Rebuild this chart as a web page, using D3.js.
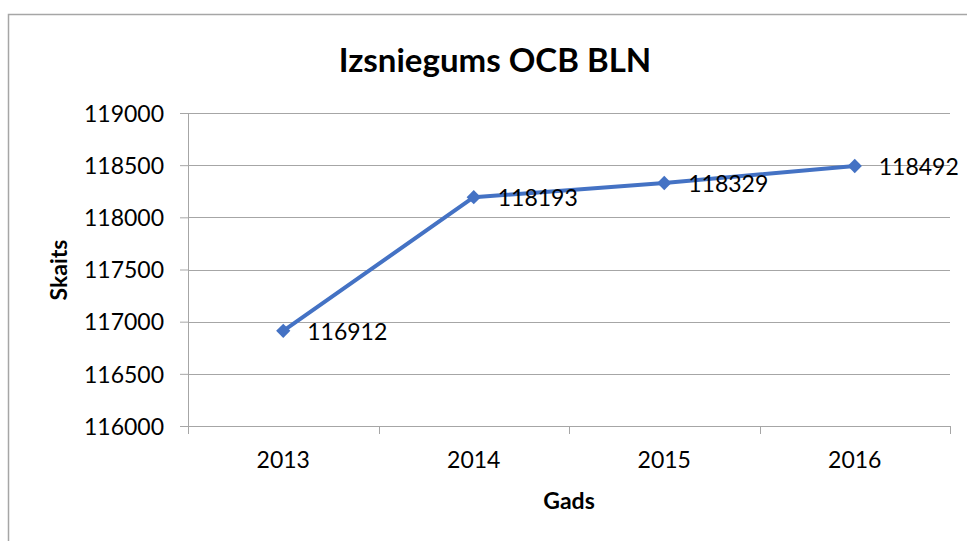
<!DOCTYPE html>
<meta charset="utf-8">
<head>
	<title>Izsniegums OCB BLN</title>
</head>
<style>
	body { margin: 0; background: #fff; }
	text { font-family: Lato, "Open Sans", sans-serif; fill: #000; }
</style>
<body>
	<svg width="967" height="541"></svg>

	<script src="https://cdnjs.cloudflare.com/ajax/libs/d3/7.8.5/d3.min.js"></script>
	<script>
		var years = ["2013", "2014", "2015", "2016"];
		var values = [116912, 118193, 118329, 118492];
		var yTicks = [116000, 116500, 117000, 117500, 118000, 118500, 119000];

		var svg = d3.select("svg"),
			margin = {top: 113, right: 17, bottom: 115, left: 188},
			width = svg.attr("width") - margin.left - margin.right,
			height = svg.attr("height") - margin.top - margin.bottom;

		// outer chart border (only top and left visible)
		svg.append("path")
			.attr("d", "M8.5,541V14.5H967")
			.attr("fill", "none")
			.attr("stroke", "#a6a6a6")
			.attr("stroke-width", 1.5);

		var g = svg.append("g")
			.attr("transform", "translate(" + margin.left + "," + margin.top + ")");

		var x = d3.scaleBand()
			.domain(years)
			.range([0, width]);

		var y = d3.scaleLinear()
			.domain([116000, 119000])
			.range([height, 0]);

		// gridlines
		g.selectAll(".grid")
			.data(yTicks)
			.enter().append("line")
			.attr("x1", 0)
			.attr("x2", width)
			.attr("y1", function(d) { return Math.round(y(d)) + 0.5; })
			.attr("y2", function(d) { return Math.round(y(d)) + 0.5; })
			.attr("stroke", "#a6a6a6")
			.attr("stroke-width", 1);

		// y axis
		var yAxis = g.append("g")
			.call(d3.axisLeft(y).tickValues(yTicks).tickSize(8).tickPadding(16).tickFormat(d3.format("d")));
		yAxis.selectAll("line").attr("stroke", "#a6a6a6");
		yAxis.select(".domain").attr("stroke", "#a6a6a6").attr("d", "M0.5,0V" + height);
		yAxis.selectAll("text").style("font-size", "23px").attr("dy", "0.36em");

		// x axis with ticks on band edges
		var xAxis = g.append("g")
			.attr("transform", "translate(0," + height + ")")
			.call(d3.axisBottom(x).tickSize(0).tickPadding(26));
		xAxis.select(".domain").attr("stroke", "#a6a6a6").attr("d", "M0," + 0.5 + "H" + width);
		xAxis.selectAll("text").style("font-size", "23px");
		g.selectAll(".xtick")
			.data(years.concat(["end"]))
			.enter().append("line")
			.attr("x1", function(d, i) { return Math.round(i * x.bandwidth()) + 0.5; })
			.attr("x2", function(d, i) { return Math.round(i * x.bandwidth()) + 0.5; })
			.attr("y1", height)
			.attr("y2", height + 8)
			.attr("stroke", "#a6a6a6");

		var pts = years.map(function(d, i) { return {year: d, value: values[i]}; });

		// series line
		g.append("path")
			.datum(pts)
			.attr("fill", "none")
			.attr("stroke", "#4472c4")
			.attr("stroke-width", 4)
			.attr("stroke-linejoin", "round")
			.attr("d", d3.line()
				.x(function(d) { return x(d.year) + x.bandwidth() / 2; })
				.y(function(d) { return y(d.value); }));

		// diamond markers
		g.selectAll(".marker")
			.data(pts)
			.enter().append("path")
			.attr("d", d3.symbol().type(d3.symbolDiamond2).size(130))
			.attr("transform", function(d) {
				return "translate(" + (x(d.year) + x.bandwidth() / 2) + "," + y(d.value) + ")";
			})
			.attr("fill", "#4472c4");

		// data labels
		g.selectAll(".label")
			.data(pts)
			.enter().append("text")
			.attr("x", function(d) { return x(d.year) + x.bandwidth() / 2 + 24; })
			.attr("y", function(d) { return y(d.value) + 1; })
			.attr("dy", "0.36em")
			.style("font-size", "23px")
			.text(function(d) { return d.value; });

		// title
		svg.append("text")
			.attr("x", 495)
			.attr("y", 72)
			.attr("text-anchor", "middle")
			.style("font-size", "33px")
			.style("font-weight", "bold")
			.text("Izsniegums OCB BLN");

		// axis titles
		svg.append("text")
			.attr("x", margin.left + width / 2)
			.attr("y", 509)
			.attr("text-anchor", "middle")
			.style("font-size", "23px")
			.style("font-weight", "bold")
			.text("Gads");

		svg.append("text")
			.attr("transform", "translate(67,270) rotate(-90)")
			.attr("text-anchor", "middle")
			.style("font-size", "23px")
			.style("font-weight", "bold")
			.text("Skaits");
	</script>
</body>
</html>
